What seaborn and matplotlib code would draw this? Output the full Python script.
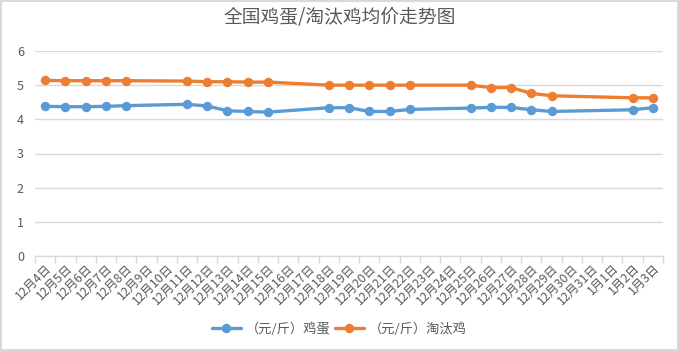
import matplotlib
matplotlib.use("Agg")
import matplotlib.pyplot as plt
import seaborn as sns
import pandas as pd
from matplotlib.ticker import FixedLocator, MultipleLocator

sns.set_theme(style="white")
plt.rcParams['font.family'] = ['Noto Sans CJK SC', 'DejaVu Sans']

all_dates = ["12月4日", "12月5日", "12月6日", "12月7日", "12月8日", "12月9日", "12月10日",
             "12月11日", "12月12日", "12月13日", "12月14日", "12月15日", "12月16日", "12月17日",
             "12月18日", "12月19日", "12月20日", "12月21日", "12月22日", "12月23日", "12月24日",
             "12月25日", "12月26日", "12月27日", "12月28日", "12月29日", "12月30日", "12月31日",
             "1月1日", "1月2日", "1月3日"]
data_dates = ["12月4日", "12月5日", "12月6日", "12月7日", "12月8日",
              "12月11日", "12月12日", "12月13日", "12月14日", "12月15日",
              "12月18日", "12月19日", "12月20日", "12月21日", "12月22日",
              "12月25日", "12月26日", "12月27日", "12月28日", "12月29日",
              "1月2日", "1月3日"]
egg = [4.38, 4.37, 4.37, 4.38, 4.40,
       4.44, 4.39, 4.25, 4.23, 4.21,
       4.34, 4.34, 4.23, 4.23, 4.29,
       4.33, 4.35, 4.35, 4.28, 4.23,
       4.28, 4.34]
hen = [5.14, 5.13, 5.13, 5.13, 5.13,
       5.12, 5.10, 5.10, 5.09, 5.09,
       5.00, 5.00, 5.00, 5.00, 5.00,
       5.00, 4.93, 4.93, 4.76, 4.69,
       4.63, 4.63]
series_names = ["（元/斤）鸡蛋", "（元/斤）淘汰鸡"]
colors = ["#5B9BD5", "#ED7D31"]

pos = [all_dates.index(d) for d in data_dates]
df = pd.DataFrame({
    "x": pos * 2,
    "value": egg + hen,
    "series": [series_names[0]] * len(egg) + [series_names[1]] * len(hen),
})

fig = plt.figure(figsize=(6.79, 3.51), dpi=100)
fig.patch.set_edgecolor("#d9d9d9")
fig.patch.set_linewidth(1.5)
ax = fig.add_axes([35/679, 1 - 256/351, (663-35)/679, (256-51)/351])

sns.lineplot(data=df, x="x", y="value", hue="series", palette=colors,
             marker="o", markersize=6.8, markeredgewidth=0, linewidth=2.4,
             ax=ax, legend=True)

ax.set_xlim(-0.5, len(all_dates) - 0.5)
ax.set_ylim(0, 6)
ax.yaxis.set_major_locator(MultipleLocator(1))
ax.grid(axis="y", color="#d9d9d9", linewidth=1)
ax.set_axisbelow(True)
for s in ["top", "right", "left"]:
    ax.spines[s].set_visible(False)
ax.spines["bottom"].set_color("#d9d9d9")
ax.spines["bottom"].set_linewidth(1)

ax.set_xticks(range(len(all_dates)))
ax.set_xticklabels(all_dates, rotation=45, ha="right", rotation_mode="anchor",
                   fontsize=8.8, color="#595959")
ax.tick_params(axis="x", which="major", length=0, pad=4)
ax.xaxis.set_minor_locator(FixedLocator([i - 0.5 for i in range(len(all_dates) + 1)]))
ax.tick_params(axis="x", which="minor", length=5, color="#d9d9d9", width=1, bottom=True)
ax.tick_params(axis="y", length=0, labelsize=9, labelcolor="#595959", pad=8)
ax.set_xlabel("")
ax.set_ylabel("")

fig.suptitle("全国鸡蛋/淘汰鸡均价走势图", y=1 - 7/351, va="top", fontsize=13.5, color="#595959")

h, l = ax.get_legend_handles_labels()
ax.get_legend().remove()
fig.legend(h, l, loc="center", bbox_to_anchor=(0.5, 1 - 329/351), ncol=2, frameon=False,
           fontsize=9.5, labelcolor="#595959", handlelength=2.2, columnspacing=0.3, handletextpad=0.4)

fig.savefig("out.png", dpi=100)
